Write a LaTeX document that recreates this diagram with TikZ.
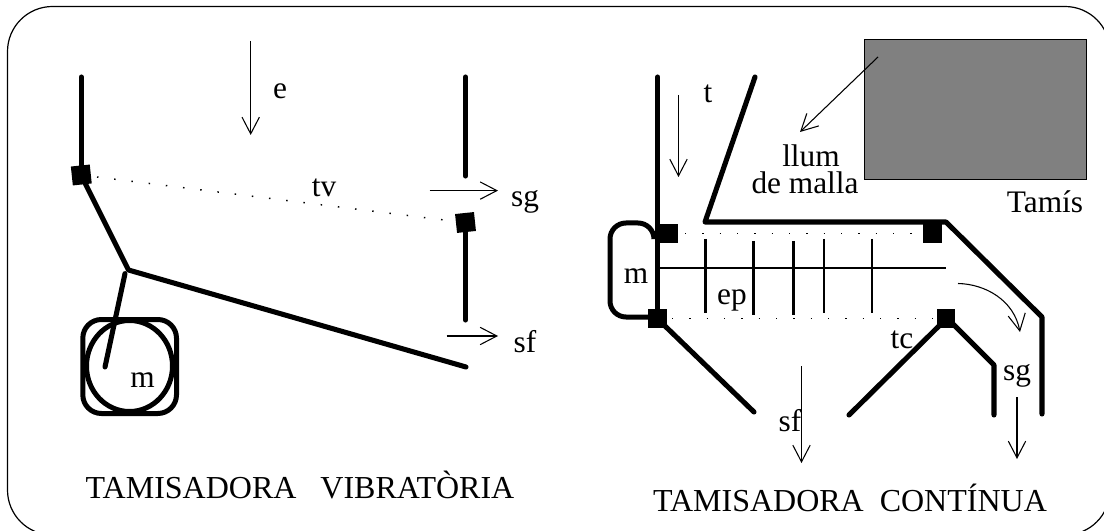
\documentclass[tikz,border=0pt]{standalone}
\usepackage{fontspec}
\setmainfont{Liberation Serif}
\usetikzlibrary{arrows.meta}
\tikzset{
  thickline/.style={line width=3.8pt,line cap=round,line join=round},
  vane/.style={line width=2pt},
  thinarrow/.style={line width=0.8pt,-{Straight Barb[length=12.5pt,width=13pt,line width=0.8pt]}},
  dotline/.style={line width=1.1pt,dash pattern=on 1.1pt off 11.9pt},
  pivot/.style={fill=black,draw=none},
  motor/.style={line width=3.75pt},
  lbl/.style={inner sep=0pt,anchor=base,font=\fontsize{23.5}{20.25}\selectfont},
  ttl/.style={inner sep=0pt,anchor=base,font=\fontsize{24}{26}\selectfont},
}
\begin{document}
\begin{tikzpicture}[x=0.75pt,y=-0.75pt]
\useasboundingbox (0,0) rectangle (1104,531);
\clip (0,0) rectangle (1104,531);
% frame
\draw[line width=0.9pt,rounded corners=33.75pt] (7.5,6.5) rectangle (1110,535);
% ---- left machine
\draw[thickline] (81.3,77) -- (81.3,174);
\draw[thickline] (465.5,77) -- (465.5,176);
\draw[thickline] (465.5,230) -- (465.5,320);
\draw[thickline] (84,181) -- (128.5,270) -- (466,367);
\draw[thickline] (125,273.6) -- (105,367);
\draw[motor,rounded corners=14pt] (82.8,319.5) rectangle (176.5,413.5);
\draw[motor] (129.5,366) ellipse[x radius=43,y radius=45.5];
\fill[pivot,rotate around={6:(81.3,175)}] (71.8,165.5) rectangle (90.8,184.5);
\fill[pivot,rotate around={6:(465.5,222.5)}] (456,213) rectangle (475,232);
\draw[dotline] (97,177) -- (444,220);
\draw[thinarrow] (250.7,41) -- (250.7,135);
\draw[thinarrow] (429.6,190.6) -- (498,190.6);
\draw[thinarrow] (446.5,336) -- (498,336);
\node[lbl] (le) at (280,99) {e};
\node[lbl] (ltv) at (324,197) {tv};
\node[lbl] (lsg) at (525,206.6) {sg};
\node[lbl] (lsf) at (525,352) {sf};
\node[lbl] (lm) at (142.6,387) {m};
\node[ttl] (ltitle) at (300,498.5) {TAMISADORA\ \ \ VIBRATÒRIA};
% ---- right machine
\draw[fill={rgb,255:red,128;green,128;blue,128},line width=0.75pt] (864,40) rectangle (1086,180);
\draw[thinarrow] (878,57) -- (800,132);
\draw[thickline] (657.7,77) -- (657.7,318);
\draw[thickline] (755,77) -- (705,222) -- (946,222) -- (1042,317) -- (1042,414);
\draw[motor,rounded corners=12pt] (654,236) -- (654,223) -- (610,223) -- (610,317) -- (655,317);
\draw[line width=1.6pt] (658,268) -- (946,268);
\draw[vane] (705.5,239) -- (705.5,313);
\draw[vane] (753.5,241) -- (753.5,315);
\draw[vane] (793.5,241) -- (793.5,315);
\draw[vane] (824,239) -- (824,313);
\draw[vane] (872,239) -- (872,313);
\draw[dotline] (685,233.5) -- (915,233.5);
\draw[dotline] (672,318.5) -- (938,318.5);
\fill[pivot] (658,224) rectangle (677.5,243);
\fill[pivot] (648,309) rectangle (667,328);
\fill[pivot] (923,224) rectangle (942,243);
\fill[pivot] (936.5,309) rectangle (955,328);
\draw[thickline] (665,326) -- (754,412);
\draw[thickline] (849,415) -- (945,320);
\draw[thickline] (949,320) -- (994,365) -- (994,415);
\draw[thinarrow] (958,283.5) .. controls (985,284) and (1014,300) .. (1020,332);
\draw[thinarrow] (678.5,95) -- (678.5,177);
\draw[thinarrow] (801.5,366) -- (801.5,463);
\draw[thinarrow] (1017,397) -- (1017,459);
\node[lbl] (rt) at (708,103) {t};
\node[lbl,align=center] (rmalla) at (805,194) {\hspace*{9pt}llum\\de malla};
\node[lbl] (rtamis) at (1045,213) {Tamís};
\node[lbl] (rm) at (636,284) {m};
\node[lbl] (rep) at (732,305) {ep};
\node[lbl] (rtc) at (902,348) {tc};
\node[lbl] (rsg) at (1017,380) {sg};
\node[lbl] (rsf) at (790,431) {sf};
\node[ttl] (rtitle) at (850,511.7) {TAMISADORA\ \ CONTÍNUA};
\end{tikzpicture}
\end{document}
